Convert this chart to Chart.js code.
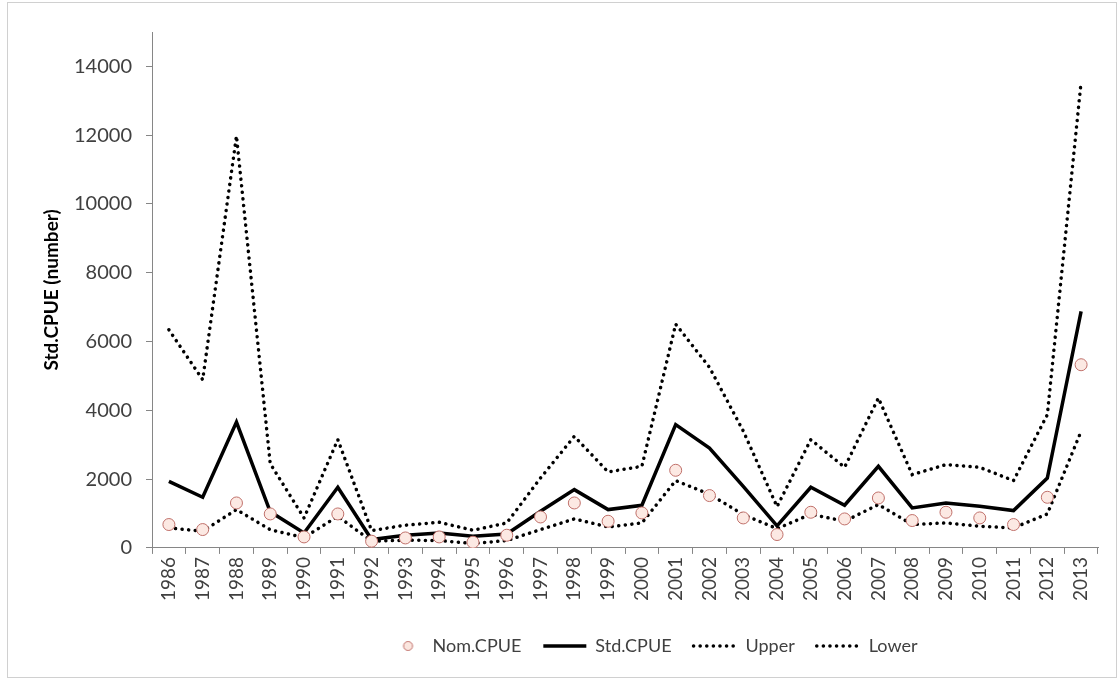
<!DOCTYPE html>
<html>
<head>
<meta charset="utf-8">
<script src="https://cdn.jsdelivr.net/npm/chart.js@4"></script>
<style>
  body { margin: 0; background: #fff; }
  #wrap { position: relative; width: 1120px; height: 682px; }
  #frame { position: absolute; left: 7px; top: 2px; width: 1110px; height: 676px; border: 1px solid #d0d0d0; box-sizing: border-box; }
  canvas { position: absolute; left: 0; top: 0; }
</style>
</head>
<body>
<div id="wrap">
  <div id="frame"></div>
  <canvas id="chart" width="1120" height="682"></canvas>
</div>
<script>
const years = ["1986", "1987", "1988", "1989", "1990", "1991", "1992", "1993", "1994", "1995",
  "1996", "1997", "1998", "1999", "2000", "2001", "2002", "2003", "2004", "2005",
  "2006", "2007", "2008", "2009", "2010", "2011", "2012", "2013"]

const nomCpue = [680, 534, 1307, 988, 320, 988, 195, 290, 320, 166,
  369, 900, 1307, 775, 1017, 2257, 1522, 872, 389, 1037,
  843, 1452, 796, 1037, 872, 680, 1472, 5326]

const stdCpue = [1937, 1473, 3660, 1050, 436, 1763, 244, 370, 436, 340,
  407, 1066, 1695, 1114, 1240, 3583, 2904, 1792, 640, 1763,
  1240, 2373, 1162, 1307, 1211, 1086, 2033, 6875]

const upper = [6343, 4891, 11978, 2450, 871, 3148, 504, 660, 746, 514,
  726, 2033, 3244, 2208, 2373, 6506, 5250, 3400, 1200, 3148,
  2344, 4357, 2131, 2422, 2344, 1957, 3874, 13555]

const lower = [581, 485, 1114, 530, 300, 920, 195, 224, 214, 127,
  214, 534, 843, 610, 726, 1957, 1560, 970, 560, 980,
  775, 1260, 680, 726, 630, 581, 988, 3390]

const yTicks = [0, 2000, 4000, 6000, 8000, 10000, 12000, 14000]

const axisGray = "#868686"
const textGray = "#404040"
const dotted = [0.1, 6.5]

// legend marker for the nominal series: small circle sitting right of centre
const legendCircle = document.createElement("canvas")
legendCircle.width = 43
legendCircle.height = 14
const lc = legendCircle.getContext("2d")
lc.beginPath()
lc.arc(27.5, 7, 4.5, 0, Math.PI * 2)
lc.fillStyle = "#fbe6df"
lc.fill()
lc.strokeStyle = "#c0706a"
lc.lineWidth = 1
lc.stroke()

// nudge the legend to the right, as in the original figure
const legendShift = {
  id: "legendShift",
  afterLayout(chart) {
    const lg = chart.legend
    if (!lg) return
    lg.left += 82
    lg.right += 82
  }
}

const ctx = document.getElementById("chart").getContext("2d")
new Chart(ctx, {
  type: "line",
  plugins: [legendShift],
  data: {
    labels: years,
    datasets: [
      {
        label: "Nom.CPUE",
        data: nomCpue,
        showLine: false,
        pointStyle: "circle",
        pointRadius: 6,
        pointBackgroundColor: "#fce9e3",
        pointBorderColor: "#c0706a",
        pointBorderWidth: 1,
        borderColor: "#c0706a",
        backgroundColor: "#fce9e3"
      },
      {
        label: "Std.CPUE",
        data: stdCpue,
        borderColor: "#000",
        backgroundColor: "#000",
        borderWidth: 3.5,
        pointRadius: 0,
        tension: 0
      },
      {
        label: "Upper",
        data: upper,
        borderColor: "#000",
        backgroundColor: "#000",
        borderWidth: 3.5,
        borderDash: dotted,
        borderCapStyle: "round",
        pointRadius: 0,
        tension: 0
      },
      {
        label: "Lower",
        data: lower,
        borderColor: "#000",
        backgroundColor: "#000",
        borderWidth: 3.5,
        borderDash: dotted,
        borderCapStyle: "round",
        pointRadius: 0,
        tension: 0
      }
    ]
  },
  options: {
    responsive: false,
    animation: false,
    layout: { padding: { left: 36, right: 22, top: 32, bottom: 17 } },
    plugins: {
      tooltip: { enabled: false },
      legend: {
        position: "bottom",
        labels: {
          usePointStyle: true,
          pointStyleWidth: 43,
          padding: 22,
          color: textGray,
          font: { family: "Lato", size: 18 },
          generateLabels: function(chart) {
            const items = Chart.defaults.plugins.legend.labels.generateLabels(chart)
            items.forEach(item => {
              const ds = chart.data.datasets[item.datasetIndex]
              if (item.datasetIndex === 0) {
                item.pointStyle = legendCircle
              } else {
                item.pointStyle = "line"
                item.lineWidth = ds.borderWidth
                item.lineDash = ds.borderDash || []
                item.lineCap = ds.borderCapStyle || "butt"
                item.strokeStyle = ds.borderColor
              }
            })
            return items
          }
        }
      }
    },
    scales: {
      x: {
        offset: true,
        afterFit: function(scale) {
          scale.height += 11
        },
        grid: {
          offset: true,
          drawOnChartArea: false,
          drawTicks: true,
          tickLength: 6,
          color: axisGray
        },
        border: { color: axisGray, width: 1 },
        ticks: {
          autoSkip: false,
          minRotation: 90,
          maxRotation: 90,
          padding: 3,
          color: textGray,
          font: { family: "Lato", size: 19 }
        }
      },
      y: {
        min: 0,
        max: 15000,
        afterBuildTicks: function(scale) {
          scale.ticks = yTicks.map(v => ({ value: v }))
        },
        afterFit: function(scale) {
          scale.width = 116
        },
        grid: {
          drawOnChartArea: false,
          drawTicks: true,
          tickLength: 6,
          color: axisGray
        },
        border: { color: axisGray, width: 1 },
        ticks: {
          padding: 14,
          color: textGray,
          font: { family: "Lato", size: 20 },
          callback: function(value) {
            return String(value)
          }
        },
        title: {
          display: true,
          text: "Std.CPUE (number)",
          color: "#000",
          font: { family: "Lato", size: 19, weight: "bold" },
          padding: { top: 4, bottom: 0 }
        }
      }
    }
  }
})
</script>
</body>
</html>
